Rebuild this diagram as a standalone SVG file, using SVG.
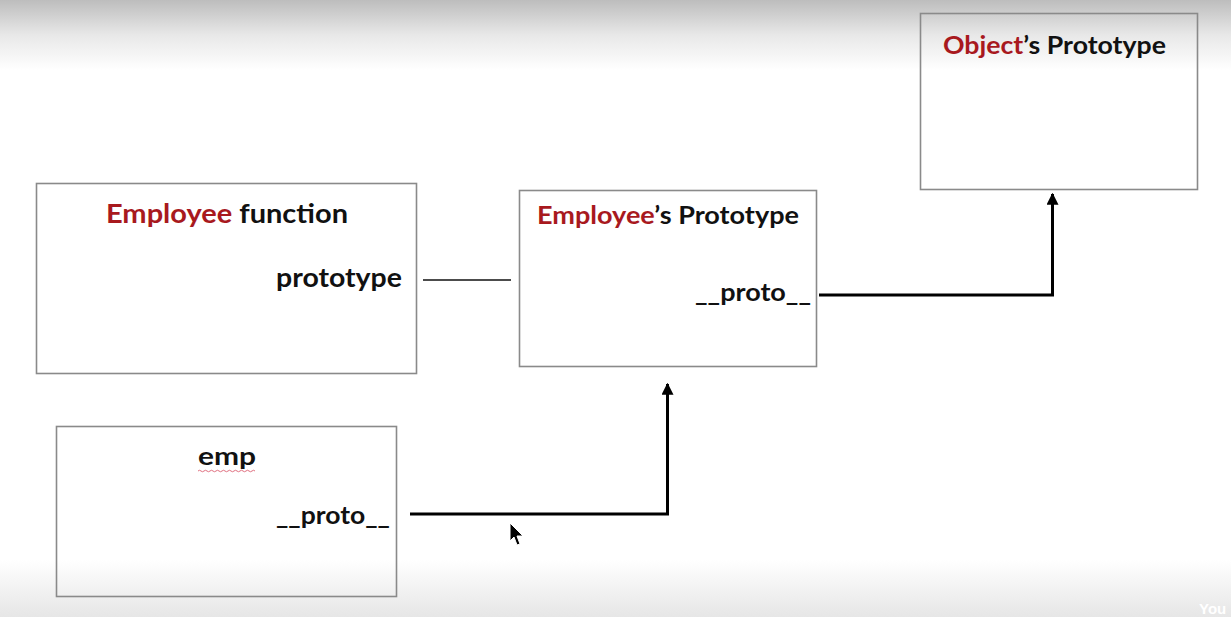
<svg xmlns="http://www.w3.org/2000/svg" width="1231" height="617" viewBox="0 0 1231 617">
<defs>
<linearGradient id="topg" x1="0" y1="0" x2="0" y2="1">
<stop offset="0" stop-color="#bdbdbd"/>
<stop offset="0.5" stop-color="#e8e8e8"/>
<stop offset="1" stop-color="#ffffff"/>
</linearGradient>
<linearGradient id="botg" x1="0" y1="0" x2="0" y2="1">
<stop offset="0" stop-color="#ffffff"/>
<stop offset="1" stop-color="#e6e6e6"/>
</linearGradient>
<marker id="arr" viewBox="0 0 10 10" refX="9" refY="5" markerWidth="4" markerHeight="4" orient="auto" markerUnits="strokeWidth">
<path d="M0,0 L10,5 L0,10 z" fill="#000"/>
</marker>
<style>
.box{fill:none;stroke:#8a8a8a;stroke-width:1.6}
.t{font-family:Lato,"Open Sans","Liberation Sans",sans-serif;font-weight:bold;fill:#111}
.r{fill:#a8191e}
.c{fill:none;stroke:#000;stroke-width:3}
</style>
</defs>
<rect x="0" y="0" width="1231" height="617" fill="#ffffff"/>
<rect x="0" y="0" width="1231" height="70" fill="url(#topg)"/>
<rect x="0" y="560" width="1231" height="57" fill="url(#botg)"/>
<g id="employee-function">
<rect class="box" x="36.5" y="183.5" width="380" height="190"/>
<text class="t" x="106" y="223" font-size="26" textLength="242" lengthAdjust="spacingAndGlyphs"><tspan class="r">Employee</tspan> function</text>
<text class="t" x="276" y="287" font-size="26" textLength="126" lengthAdjust="spacingAndGlyphs">prototype</text>
</g>
<g id="employee-prototype">
<rect class="box" x="519.5" y="190.5" width="297" height="176"/>
<text class="t" x="537" y="224" font-size="24" textLength="262" lengthAdjust="spacingAndGlyphs"><tspan class="r">Employee</tspan>’s Prototype</text>
<text class="t" x="695" y="301" font-size="24" textLength="116" lengthAdjust="spacingAndGlyphs">__proto__</text>
</g>
<g id="object-prototype">
<rect class="box" x="920.5" y="13.5" width="277" height="176"/>
<text class="t" x="943" y="54" font-size="24" textLength="223" lengthAdjust="spacingAndGlyphs"><tspan class="r">Object</tspan>’s Prototype</text>
</g>
<g id="emp">
<rect class="box" x="56.5" y="426.5" width="340" height="170"/>
<text class="t" x="198" y="465" font-size="25" textLength="58" lengthAdjust="spacingAndGlyphs">emp</text>
<path d="M198,471 q1.5,-1.5 3,0 t3,0 t3,0 t3,0 t3,0 t3,0 t3,0 t3,0 t3,0 t3,0 t3,0 t3,0 t3,0 t3,0 t3,0 t3,0 t3,0 t3,0 t3,0" fill="none" stroke="#e07080" stroke-width="1"/>
<text class="t" x="276" y="524" font-size="24" textLength="114" lengthAdjust="spacingAndGlyphs">__proto__</text>
</g>
<g id="connectors">
<line x1="423" y1="280" x2="511" y2="280" stroke="#111" stroke-width="1.6"/>
<polyline class="c" points="819,295 1052.5,295 1052.5,194" marker-end="url(#arr)"/>
<polyline class="c" points="410,514 667.5,514 667.5,384" marker-end="url(#arr)"/>
</g>
<path d="M510,523 L510,541 L514,537 L517,545 L520,544 L517,536 L523,536 Z" fill="#000" stroke="#fff" stroke-width="1"/>
<text x="1199" y="614" font-family="Liberation Sans,sans-serif" font-weight="bold" font-size="15" fill="#ffffff">You</text>
</svg>
